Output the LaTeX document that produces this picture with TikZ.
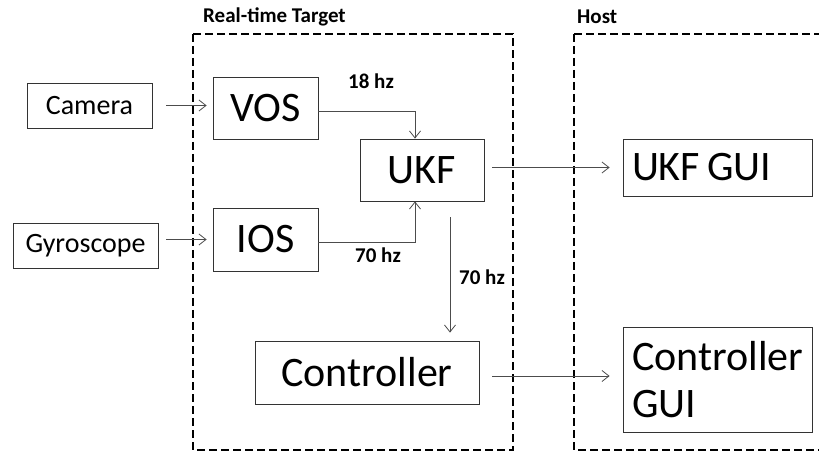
\documentclass[tikz,border=0pt]{standalone}
\usepackage{fontspec}
\setmainfont{Carlito}
\usetikzlibrary{arrows.meta}
\tikzset{
  blk/.style={draw=black!80, line width=0.8pt, rectangle, inner sep=0pt},
  bigtxt/.style={font=\fontsize{42}{47}\selectfont},
  smalltxt/.style={font=\fontsize{28}{32}\selectfont},
  lbl/.style={font=\bfseries\fontsize{21}{24}\selectfont, inner sep=0pt, anchor=west},
  conn/.style={draw=black!70, line width=0.8pt, -{Straight Barb[length=7pt,width=11pt]}},
  region/.style={draw=black, line width=2.6pt, dash pattern=on 8pt off 4pt}
}
\begin{document}
\begin{tikzpicture}[x=1pt,y=-1pt]
\useasboundingbox (0,0) rectangle (819,454);
% regions
\draw[region] (193,34) rectangle (513,450);
\draw[region] (574,34) -- (830,34) (574,34) -- (574,450) -- (830,450);
\node[lbl] (rtl) at (203,17) {Real-time Target};
\node[lbl] (hostl) at (577,17) {Host};
% blocks
\node[blk, smalltxt, minimum width=125pt, minimum height=45pt] (cam) at (89.5,105.5) {Camera};
\node[blk, smalltxt, minimum width=145pt, minimum height=45pt] (gyro) at (85.5,245.5) {Gyroscope};
\node[blk, bigtxt, minimum width=105pt, minimum height=62pt] (vos) at (265.5,108) {VOS};
\node[blk, bigtxt, minimum width=105pt, minimum height=63pt] (ios) at (265.5,239.5) {IOS};
\node[blk, bigtxt, minimum width=124pt, minimum height=62pt] (ukf) at (422,170) {UKF};
\node[blk, bigtxt, minimum width=224pt, minimum height=63pt] (ctrl) at (367,372.5) {Controller};
\node[blk, bigtxt, minimum width=189pt, minimum height=57pt, text width=171pt, align=left] (ukfgui) at (717.5,167.5) {\spaceskip=7pt UKF GUI};
\node[blk, bigtxt, minimum width=189pt, minimum height=105pt, text width=171pt, align=left] (ctrlgui) at (717.5,379.5) {Controller\\GUI};
% connectors
\draw[conn, shorten <=14pt, shorten >=6pt] (cam.east) -- (cam.east -| vos.west);
\draw[conn, shorten <=8pt, shorten >=6pt] (gyro.east |- ios.west) -- (ios.west);
\draw[conn] ([yshift=-3pt]vos.east) -| ([xshift=-7pt]ukf.north);
\draw[conn] ([yshift=-3pt]ios.east) -| ([xshift=-7pt]ukf.south);
\draw[conn, shorten <=8pt, shorten >=13pt] (ukf.east |- ukfgui.west) -- (ukfgui.west);
\draw[conn, shorten <=16pt, shorten >=8pt] ([xshift=28pt]ukf.south) -- ([xshift=83pt]ctrl.north);
\draw[conn, shorten <=13pt, shorten >=13pt] (ctrl.east |- 0,376) -- (ctrlgui.west |- 0,376);
% rate labels
\node[lbl] (r18) at (348,81) {18 hz};
\node[lbl] (r70a) at (355,255) {70 hz};
\node[lbl] (r70b) at (459,277) {70 hz};
\end{tikzpicture}
\end{document}
